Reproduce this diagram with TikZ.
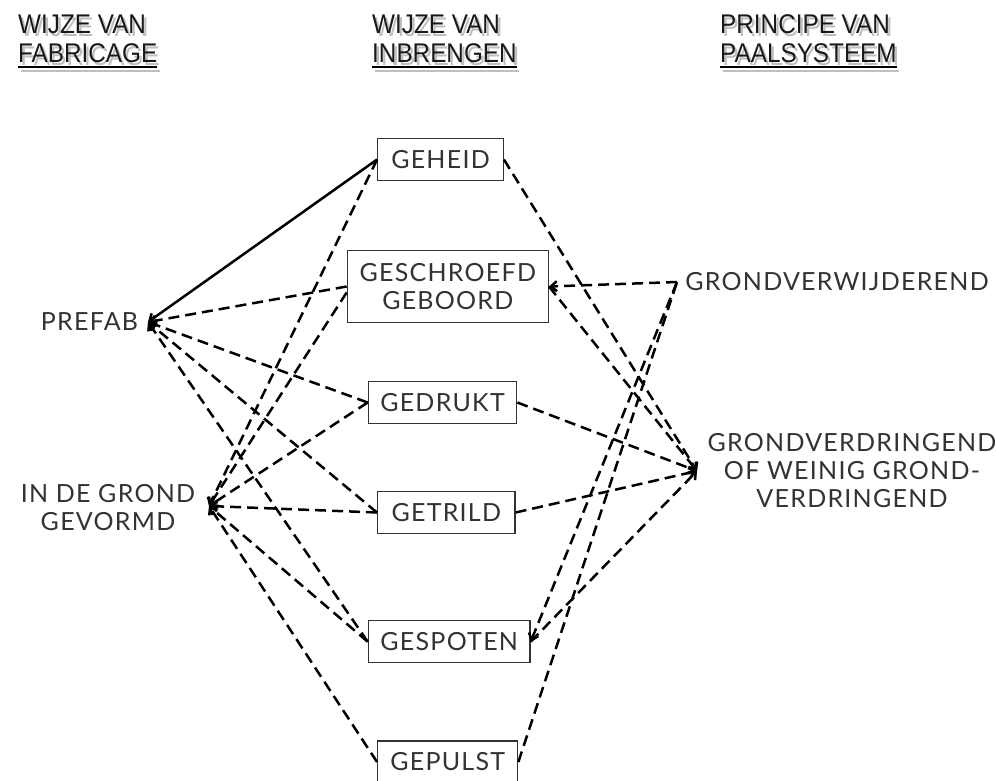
\documentclass[tikz,border=0pt]{standalone}
\usepackage{fontspec}
\usetikzlibrary{arrows.meta}
\newfontfamily\bodyfont{Lato}[LetterSpace=5]
\newfontfamily\headfont{Liberation Sans}[FakeStretch=0.9]
\begin{document}
\begin{tikzpicture}[x=1pt,y=-1pt,
  txt/.style={text=black!80, inner sep=0pt, align=center, font=\bodyfont\fontsize{25}{28}\selectfont},
  box/.style={txt, draw=black!80, line width=1.3pt, minimum height=42pt},
  hdr/.style={inner sep=0pt, anchor=base west, text=black!90, font=\headfont\fontsize{27}{28}\selectfont},
  hdrsh/.style={hdr, text=black!25},
  uline/.style={line width=2.2pt, black},
  ulinesh/.style={line width=2.2pt, black!25},
  conn/.style={line width=2.5pt, dash pattern=on 11pt off 6pt},
  solidconn/.style={line width=2.5pt},
  tip/.style={-{Straight Barb[length=6pt,width=10pt]}}
]
\useasboundingbox (0,0) rectangle (996,780);
\clip (0,0) rectangle (996,780);
\fill[white] (0,0) rectangle (996,780);

% headers (shadow first)
\foreach \hx/\la/\lb/\nm in {18/WIJZE VAN/FABRICAGE/a, 372/WIJZE VAN/INBRENGEN/b, 720/PRINCIPE VAN/PAALSYSTEEM/c}{
  \node[hdrsh] (hs\nm1) at (\hx+2.5,36) {\la};
  \node[hdrsh] (hs\nm2) at (\hx+2.5,65) {\lb};
  \draw[ulinesh] ([yshift=-6pt]hs\nm2.base west) -- ([yshift=-6pt]hs\nm2.base east);
  \node[hdr] (h\nm1) at (\hx,33) {\la};
  \node[hdr] (h\nm2) at (\hx,62) {\lb};
  \draw[uline] ([yshift=-5pt]h\nm2.base west) -- ([yshift=-5pt]h\nm2.base east);
}

% middle boxes
\node[box, minimum width=125.6pt] (geheid) at (440.5,159.5) {GEHEID};
\node[box, minimum width=201pt, minimum height=71.6pt] (geschr) at (447.8,286.5) {GESCHROEFD\\GEBOORD};
\node[box, minimum width=148.4pt] (gedrukt) at (442.5,402.5) {GEDRUKT};
\node[box, minimum width=137.3pt] (getrild) at (446.3,512.5) {GETRILD};
\node[box, minimum width=161.7pt] (gespoten) at (449.2,641.7) {GESPOTEN};
\node[box, minimum width=140pt] (gepulst) at (447.7,762) {GEPULST};

% left labels
\node[txt] (prefab) at (89.5,322) {PREFAB};
\node[txt] (indegrond) at (108,508) {IN DE GROND\\GEVORMD};
\coordinate (P) at (148,322);
\coordinate (G) at (209,506);

% right labels
\node[txt] (verw) at (837,282) {GRONDVERWIJDEREND};
\node[txt] (verd) at (852,471) {GRONDVERDRINGEND\\OF WEINIG GROND-\\VERDRINGEND};
\coordinate (RW) at (677,282);
\coordinate (RD) at (697,471);

% left connectors
\draw[solidconn, tip] (geheid.west) -- (P);
\draw[conn, tip] (geschr.west) -- (P);
\draw[conn, tip] (gedrukt.west) -- (P);
\draw[conn, tip] (getrild.west) -- (P);
\draw[conn, tip] (gespoten.west) -- (P);

\draw[conn, tip] (geheid.west) -- (G);
\draw[conn, tip] ([yshift=-6pt]geschr.west) -- (G);
\draw[conn, tip] (gedrukt.west) -- (G);
\draw[conn, tip] (getrild.west) -- (G);
\draw[conn, tip] (gespoten.west) -- (G);
\draw[conn, tip] (gepulst.west) -- (G);

% right connectors
\draw[conn, tip] (geheid.east) -- (RD);
\draw[conn, tip] (geschr.east) -- (RD);
\draw[conn, tip] (gedrukt.east) -- (RD);
\draw[conn, tip] (getrild.east) -- (RD);
\draw[conn, tip] (gespoten.east) -- (RD);
\draw[conn, tip] (RW) -- (geschr.east);
\draw[conn, tip] (RW) -- (gespoten.east);
\draw[conn] (gepulst.east) -- (RW);
\end{tikzpicture}
\end{document}
